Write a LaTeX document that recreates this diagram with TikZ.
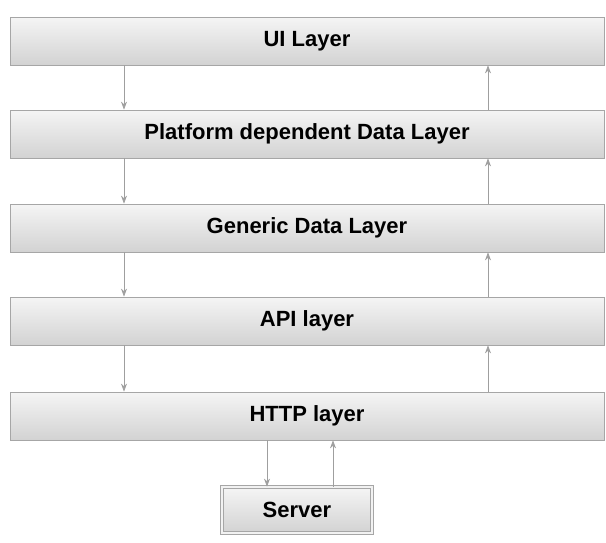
\documentclass[tikz,border=0pt]{standalone}
\usepackage{fontspec}
\setmainfont{Liberation Sans}
\usetikzlibrary{arrows.meta}

\begin{document}
\begin{tikzpicture}[x=1pt,y=-1pt,
	layer/.style={rectangle, draw=gray!70, line width=0.8pt, top color=gray!8, bottom color=gray!35, minimum width=594pt, minimum height=48pt, inner sep=0pt, font=\fontsize{22}{26}\selectfont\bfseries},
	box/.style={layer, minimum width=150pt, minimum height=46pt, double=gray!10, double distance=1.5pt},
	flow/.style={draw=gray!75, line width=0.7pt, -{Stealth[length=8pt,width=6pt]}}]

	\useasboundingbox (0,0) rectangle (606,542);

	% the stack of layers
	\node[layer] (ui) at (307,41) {UI Layer};
	\node[layer] (platform) at (307,134) {Platform dependent Data Layer};
	\node[layer] (generic) at (307,228) {Generic Data Layer};
	\node[layer] (api) at (307,321) {API layer};
	\node[layer] (http) at (307,416) {HTTP layer};
	\node[box] (server) at (297,510) {Server};

	\coordinate (dn) at (124,0);
	\coordinate (up) at (488,0);
	\coordinate (req) at (267,0);
	\coordinate (resp) at (333,0);

	% requests go down on the left, data comes back up on the right
	\foreach \a/\b in {ui/platform, platform/generic, generic/api, api/http} {
		\draw[flow] (\a.south -| dn) -- (\b.north -| dn);
		\draw[flow] (\b.north -| up) -- (\a.south -| up);
	}
	\draw[flow] (http.south -| req) -- (server.north -| req);
	\draw[flow] (server.north -| resp) -- (http.south -| resp);
\end{tikzpicture}
\end{document}
